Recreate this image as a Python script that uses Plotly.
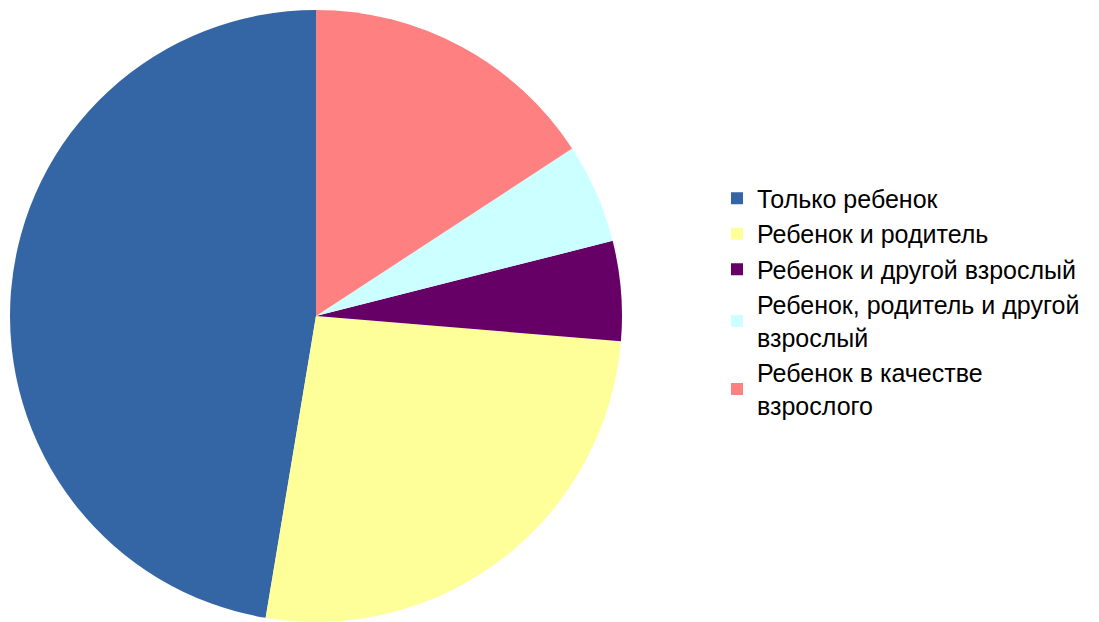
import plotly.graph_objects as go

# Respondent categories and their counts
categories = [
    "Только ребенок",
    "Ребенок и родитель",
    "Ребенок и другой взрослый",
    "Ребенок, родитель и другой<br>взрослый",
    "Ребенок в качестве<br>взрослого",
]
counts = [9, 5, 1, 1, 3]
colors = ["#3465a4", "#ffff99", "#660066", "#ccffff", "#ff8080"]

W, H = 1099, 622

fig = go.Figure(
    go.Pie(
        labels=categories,
        values=counts,
        marker=dict(colors=colors, line=dict(width=0)),
        sort=False,
        direction="counterclockwise",
        rotation=189.47,
        textinfo="none",
        hoverinfo="label+percent",
        domain=dict(x=[10 / W, 622 / W], y=[0, 1]),
    )
)

fig.update_layout(
    width=W,
    height=H,
    margin=dict(l=0, r=0, t=10, b=0),
    paper_bgcolor="white",
    plot_bgcolor="white",
    font=dict(family="Liberation Sans, Arial, sans-serif", size=25, color="#000000"),
    legend=dict(
        x=717 / W,
        y=0.523,
        xanchor="left",
        yanchor="middle",
        traceorder="normal",
        font=dict(size=25),
        itemsizing="constant",
    ),
    showlegend=True,
)

fig.write_html("out.html")
